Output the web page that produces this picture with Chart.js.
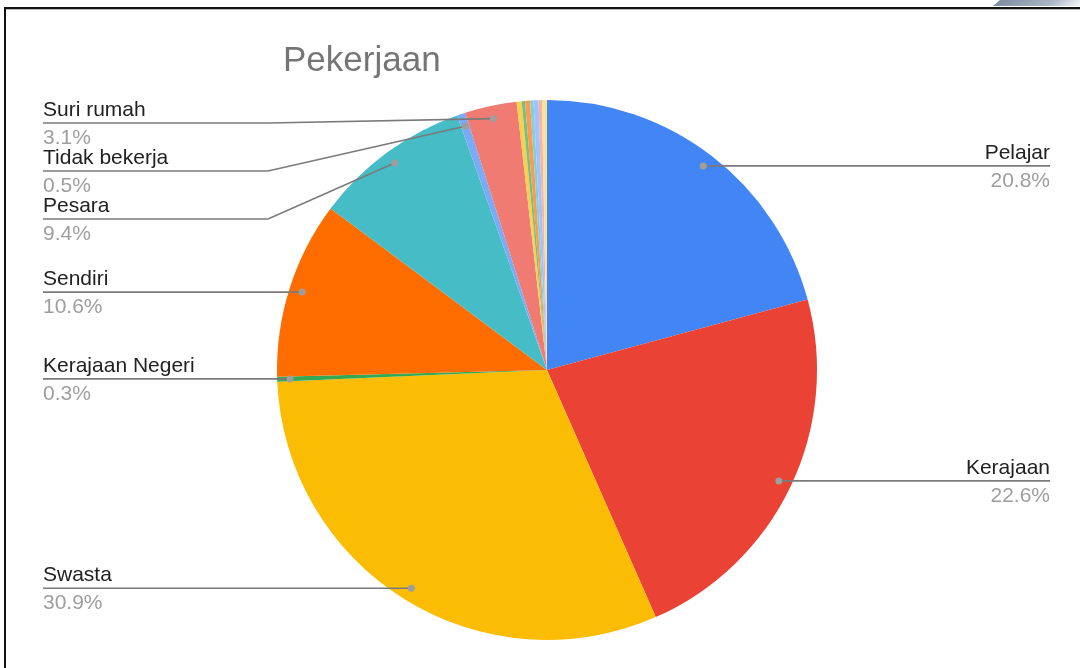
<!DOCTYPE html>
<html>
<head>
<meta charset="utf-8">
<title>Pekerjaan</title>
<script src="https://cdn.jsdelivr.net/npm/chart.js@4.4.1/dist/chart.umd.min.js"></script>
<style>
  html, body { margin: 0; padding: 0; background: #fff; }
  body { width: 1080px; height: 668px; position: relative; overflow: hidden; }
  .frame {
    position: absolute; left: 4px; top: 7px; width: 1100px; height: 700px;
    border-left: 2px solid #111; border-top: 2px solid #111;
    box-shadow: inset 0 1px 0 #bbb;
  }
  .corner {
    position: absolute; right: -10px; top: -6px; width: 90px; height: 12px;
    background: linear-gradient(100deg, #7d8da3 0%, #a9b5c4 60%, rgba(255,255,255,0) 100%);
    transform: skewX(-50deg);
  }
  #wrap { position: absolute; left: 0; top: 0; width: 1080px; height: 668px; }
</style>
</head>
<body>
<div class="corner"></div>
<div class="frame"></div>
<div id="wrap"><canvas id="pieChart"></canvas></div>
<script>
const chartTitle = "Pekerjaan";
const categories = ["Pelajar", "Kerajaan", "Swasta", "Kerajaan Negeri", "Sendiri", "Pesara", "Tidak bekerja", "Suri rumah", "", "", "", "", "", "", ""];
const shares = [20.8, 22.6, 30.9, 0.3, 10.6, 9.4, 0.5, 3.1, 0.3, 0.2, 0.3, 0.2, 0.3, 0.2, 0.3];
const colors = ["#4285f4", "#ea4335", "#fbbc04", "#34a853", "#ff6d01", "#46bdc6", "#7baaf7", "#f07b72",
  "#fcd04f", "#71c287", "#ff994d", "#7ed1d7", "#a1c2fa", "#f4b3ae", "#fde293"];

const font = "'Liberation Sans', Arial, sans-serif";

const pieLabels = {
  id: "pieLabels",
  afterDraw(chart) {
    const ctx = chart.ctx;
    const meta = chart.getDatasetMeta(0);
    const total = shares.reduce((a, b) => a + b, 0);
    const left = [];
    const right = [];

    meta.data.forEach((arc, i) => {
      if (!categories[i]) return;
      const mid = (arc.startAngle + arc.endAngle) / 2;
      const r = arc.outerRadius * 0.952;
      const item = {
        i,
        x: arc.x + Math.cos(mid) * r,
        y: arc.y + Math.sin(mid) * r,
      };
      (item.x >= arc.x ? right : left).push(item);
    });

    // stack labels so they don't overlap
    [left, right].forEach((list) => {
      list.sort((a, b) => a.y - b.y);
      let prev = 75;
      list.forEach((it) => {
        it.ly = Math.max(it.y, prev + 48);
        prev = it.ly;
      });
    });

    ctx.save();
    ctx.lineWidth = 1.6;
    ctx.strokeStyle = "#7a7a7a";

    const drawText = (it, tx, align) => {
      ctx.textAlign = align;
      ctx.textBaseline = "alphabetic";
      ctx.font = "21px " + font;
      ctx.fillStyle = "#222";
      ctx.fillText(categories[it.i], tx, it.ly - 7);
      ctx.fillStyle = "#9e9e9e";
      ctx.fillText((shares[it.i] / total * 100).toFixed(1) + "%", tx, it.ly + 21);
    };

    const dot = (it) => {
      ctx.beginPath();
      ctx.fillStyle = "#9e9e9e";
      ctx.arc(it.x, it.y, 3.5, 0, Math.PI * 2);
      ctx.fill();
    };

    left.forEach((it) => {
      ctx.beginPath();
      ctx.moveTo(43, it.ly);
      if (Math.abs(it.ly - it.y) > 1) {
        ctx.lineTo(268, it.ly);
      }
      ctx.lineTo(it.x, it.y);
      ctx.stroke();
      dot(it);
      drawText(it, 43, "left");
    });

    right.forEach((it) => {
      ctx.beginPath();
      ctx.moveTo(it.x, it.y);
      if (Math.abs(it.ly - it.y) > 1) {
        ctx.lineTo(826, it.ly);
      }
      ctx.lineTo(1050, it.ly);
      ctx.stroke();
      dot(it);
      drawText(it, 1050, "right");
    });

    // title
    ctx.textAlign = "left";
    ctx.font = "35px " + font;
    ctx.fillStyle = "#757575";
    ctx.fillText(chartTitle, 283, 71);
    ctx.restore();
  },
};

document.addEventListener("DOMContentLoaded", () => {
  new Chart(document.getElementById("pieChart"), {
    type: "pie",
    data: {
      labels: categories,
      datasets: [
        {
          data: shares,
          backgroundColor: colors,
          borderWidth: 0,
        },
      ],
    },
    options: {
      responsive: true,
      maintainAspectRatio: false,
      animation: false,
      layout: {
        padding: { top: 100, bottom: 28, left: 277, right: 263 },
      },
      plugins: {
        legend: { display: false },
        tooltip: { enabled: false },
        title: { display: false },
      },
    },
    plugins: [pieLabels],
  });
});
</script>
</body>
</html>
